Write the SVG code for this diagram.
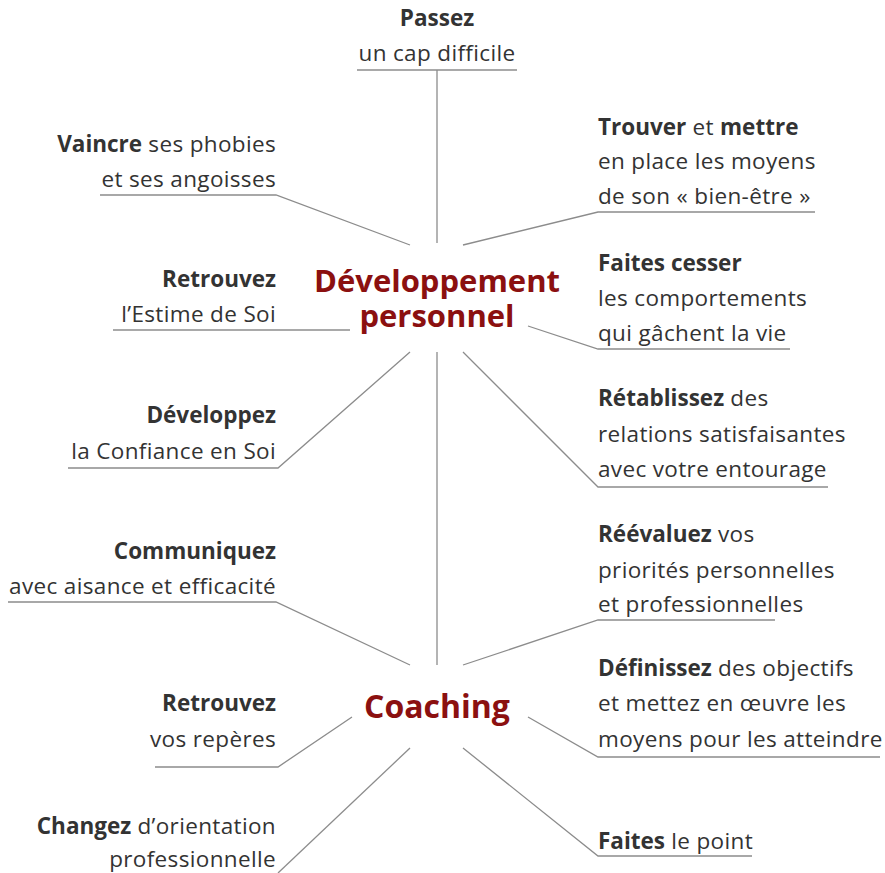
<svg xmlns="http://www.w3.org/2000/svg" width="885" height="873" viewBox="0 0 885 873">
<style>
text{font-family:"Open Sans",Lato,"Liberation Sans",sans-serif;font-size:22.5px;letter-spacing:0.35px;fill:#333}
.b{font-weight:bold;letter-spacing:0}
.r{text-anchor:end}
.m{text-anchor:middle}
.hub{font-size:31px;font-weight:bold;fill:#8b1010;text-anchor:middle;letter-spacing:0}
.c line,.c polyline{stroke:#8c8c8c;stroke-width:1.3;fill:none}
</style>
<rect width="885" height="873" fill="#fff"/>
<g class="c" id="connectors">
<polyline points="357,70 517,70"/>
<line x1="437" y1="70" x2="437" y2="243"/>
<polyline points="100,195 276,195 410,245"/>
<polyline points="815,212 598,212 463,245"/>
<polyline points="113,330 350,330"/>
<polyline points="528,326 598,349 790,349"/>
<polyline points="410,352 278,468 68,468"/>
<line x1="437" y1="352" x2="437" y2="665"/>
<polyline points="463,352 598,487 828,487"/>
<polyline points="8,602 276,602 410,665"/>
<polyline points="775,620 598,620 463,665"/>
<polyline points="528,717 598,757 880,757"/>
<polyline points="352,717 278,767 155,767"/>
<line x1="410" y1="748" x2="278" y2="873"/>
<polyline points="463,748 598,856 752,856"/>
</g>
<g id="hub-dp"><text class="hub" x="437" y="292">Développement</text><text class="hub" x="437" y="327">personnel</text></g>
<g id="hub-coaching"><text class="hub" x="437" y="718" style="font-size:32px">Coaching</text></g>
<g id="n-passez"><text class="m b" x="437" y="26">Passez</text><text class="m" x="437" y="61">un cap difficile</text></g>
<g id="n-vaincre"><text class="r" x="276" y="152"><tspan class="b">Vaincre</tspan> ses phobies</text><text class="r" x="276" y="187">et ses angoisses</text></g>
<g id="n-trouver"><text x="598" y="135"><tspan class="b">Trouver</tspan> et <tspan class="b">mettre</tspan></text><text x="598" y="169">en place les moyens</text><text x="598" y="204">de son « bien-être »</text></g>
<g id="n-estime"><text class="r b" x="276" y="287">Retrouvez</text><text class="r" x="276" y="322">l’Estime de Soi</text></g>
<g id="n-cesser"><text class="b" x="598" y="271">Faites cesser</text><text x="598" y="306">les comportements</text><text x="598" y="341">qui gâchent la vie</text></g>
<g id="n-confiance"><text class="r b" x="276" y="423">Développez</text><text class="r" x="276" y="459">la Confiance en Soi</text></g>
<g id="n-relations"><text x="598" y="406"><tspan class="b">Rétablissez</tspan> des</text><text x="598" y="442">relations satisfaisantes</text><text x="598" y="477">avec votre entourage</text></g>
<g id="n-communiquez"><text class="r b" x="276" y="559">Communiquez</text><text class="r" x="276" y="594">avec aisance et efficacité</text></g>
<g id="n-reevaluez"><text x="598" y="542"><tspan class="b">Réévaluez</tspan> vos</text><text x="598" y="578">priorités personnelles</text><text x="598" y="612">et professionnelles</text></g>
<g id="n-definissez"><text x="598" y="676"><tspan class="b">Définissez</tspan> des objectifs</text><text x="598" y="711">et mettez en œuvre les</text><text x="598" y="747">moyens pour les atteindre</text></g>
<g id="n-reperes"><text class="r b" x="276" y="711">Retrouvez</text><text class="r" x="276" y="747">vos repères</text></g>
<g id="n-changez"><text class="r" x="276" y="834"><tspan class="b">Changez</tspan> d’orientation</text><text class="r" x="276" y="867">professionnelle</text></g>
<g id="n-point"><text x="598" y="849"><tspan class="b">Faites</tspan> le point</text></g>
</svg>
